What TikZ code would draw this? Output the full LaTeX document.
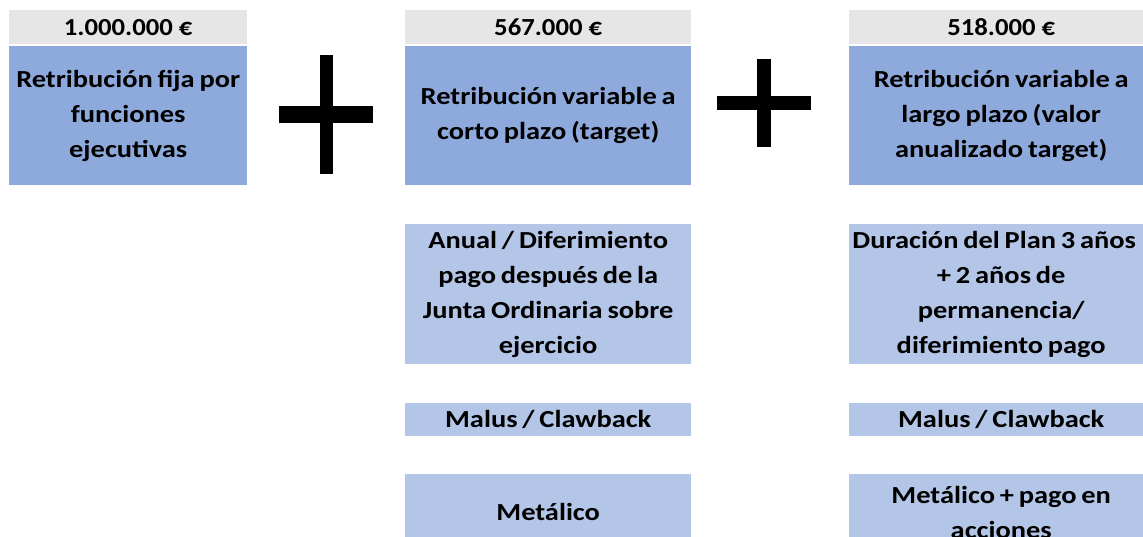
\documentclass[tikz,border=0pt]{standalone}
\usepackage{fontspec}
\setmainfont{Carlito}[FakeStretch=1.16, WordSpace=0.75]
\newfontfamily\amountfont{Carlito}[FakeStretch=1.09]
\definecolor{hdrgray}{HTML}{E7E6E6}
\definecolor{midblue}{HTML}{8EA9DB}
\definecolor{paleblue}{HTML}{B4C6E7}
\begin{document}
\begin{tikzpicture}[x=1pt, y=-1pt,
      every node/.style = {shape=rectangle, anchor=north west,
        inner sep=0pt, align=center,
        font=\bfseries\fontsize{24.5}{35}\selectfont},
      hdr/.style = {fill=hdrgray, minimum height=34pt,
        font=\amountfont\bfseries\fontsize{24.5}{35}\selectfont},
      concept/.style = {fill=midblue, minimum height=139pt},
      detail/.style = {fill=paleblue}]
  \clip (0,0) rectangle (1143,537);
  % headers
  \node[hdr, minimum width=238pt] (hdrA) at (9,10) {1.000.000 €};
  \node[hdr, minimum width=286pt] (hdrB) at (405,10) {567.000 €};
  \node[hdr, minimum width=304pt] (hdrC) at (849,10) {518.000 €};
  % concepts
  \node[concept, minimum width=238pt] (fija) at (9,46)
    {Retribución fija por\\funciones\\ejecutivas};
  \node[concept, minimum width=286pt] (corto) at (405,46)
    {Retribución variable a\\corto plazo (target)};
  \node[concept, minimum width=304pt] (largo) at (849,46)
    {Retribución variable a\\largo plazo (valor\\anualizado target)};
  % plus signs
  \fill (320,55) rectangle (333,174);
  \fill (279,106) rectangle (373,123);
  \fill (757,59) rectangle (771,147);
  \fill (717,96) rectangle (811,110);
  % details
  \node[detail, minimum width=286pt, minimum height=140pt] (plazoB) at (405,224)
    {Anual / Diferimiento\\pago después de la\\Junta Ordinaria sobre\\ejercicio};
  \node[detail, minimum width=304pt, minimum height=140pt] (plazoC) at (849,224)
    {\hspace*{-14pt}Duración del Plan 3 años\\+ 2 años de\\permanencia/\\diferimiento pago};
  \node[detail, minimum width=286pt, minimum height=33pt] (malusB) at (405,403)
    {Malus / Clawback};
  \node[detail, minimum width=304pt, minimum height=33pt] (malusC) at (849,403)
    {Malus / Clawback};
  \node[detail, minimum width=286pt, minimum height=76pt] (pagoB) at (405,474)
    {Metálico};
  \node[detail, minimum width=304pt, minimum height=76pt] (pagoC) at (849,474)
    {Metálico + pago en\\acciones};
\end{tikzpicture}
\end{document}
